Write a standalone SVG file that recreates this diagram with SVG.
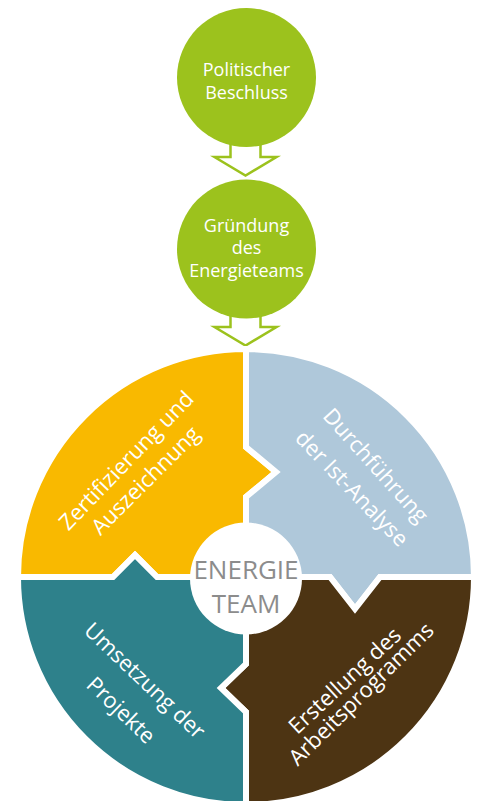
<svg xmlns="http://www.w3.org/2000/svg" width="487" height="801" viewBox="0 0 487 801">
<style>
text{font-family:"Open Sans","Noto Sans","DejaVu Sans",sans-serif;fill:#fff;text-anchor:middle}
.top{font-size:18px}
.q{font-size:22px}
.seg{stroke:#fff;stroke-width:6;stroke-linejoin:miter;stroke-miterlimit:10}
.arrow{fill:#fff;stroke:#9CC21D;stroke-width:2.5;stroke-linejoin:miter}
.green{fill:#9CC21D}
.center{font-size:26px;fill:#8C8C8C}
</style>
<rect width="487" height="801" fill="#fff"/>
<g id="connectors">
<path class="arrow" d="M230.5,140 V157 H214.5 L245.5,175.5 L276.5,157 H260.5 V140"/>
<path class="arrow" d="M230.5,310 V327 H214.5 L245.5,345.5 L276.5,327 H260.5 V310"/>
</g>
<g id="politischer-beschluss">
<circle class="green" cx="246.5" cy="77.5" r="69.5"/>
<text class="top" x="246.5" y="76">Politischer</text>
<text class="top" x="246.5" y="99">Beschluss</text>
</g>
<g id="gruendung">
<circle class="green" cx="246.5" cy="249" r="69.5"/>
<text class="top" x="246.5" y="231.5">Gründung</text>
<text class="top" x="246.5" y="253.5">des</text>
<text class="top" x="246.5" y="276.5">Energieteams</text>
</g>
<g id="zertifizierung">
<path class="seg" fill="#F9B900" d="M18,577 A228,228 0 0 1 246,349 V447 L276,472 L246,497 V577 H157 L135,555 L113,577 Z"/>
<text class="q" transform="translate(131.8,465.8) rotate(-46)">Zertifizierung und</text>
<text class="q" transform="translate(150.8,485.8) rotate(-45)">Auszeichnung</text>
</g>
<g id="durchfuehrung">
<path class="seg" fill="#AFC8DA" d="M246,349 A228,228 0 0 1 474,577 H380 L355,609 L330,577 H246 V497 L276,472 L246,447 Z"/>
<text class="q" transform="translate(370.1,470.5) rotate(48)">Durchführung</text>
<text class="q" transform="translate(346.5,493.7) rotate(46)">der Ist-Analyse</text>
</g>
<g id="erstellung">
<path class="seg" fill="#4D3413" d="M474,577 A228,228 0 0 1 246,805 V712 L221,688 L246,664 V577 H330 L355,609 L380,577 Z"/>
<text class="q" transform="translate(350,686.1) rotate(-43)">Erstellung des</text>
<text class="q" transform="translate(366.4,699.3) rotate(-44.5)">Arbeitsprogramms</text>
</g>
<g id="umsetzung">
<path class="seg" fill="#2E818B" d="M246,805 A228,228 0 0 1 18,577 H113 L135,555 L157,577 H246 V664 L221,688 L246,712 Z"/>
<text class="q" transform="translate(139.7,686.1) rotate(43.5)">Umsetzung der</text>
<text class="q" transform="translate(115.8,715.6) rotate(43.8)">Projekte</text>
</g>
<g id="energieteam">
<circle cx="246" cy="578.5" r="56" fill="#fff"/>
<text class="center" x="246" y="579">ENERGIE</text>
<text class="center" x="246" y="612.5">TEAM</text>
</g>
</svg>
